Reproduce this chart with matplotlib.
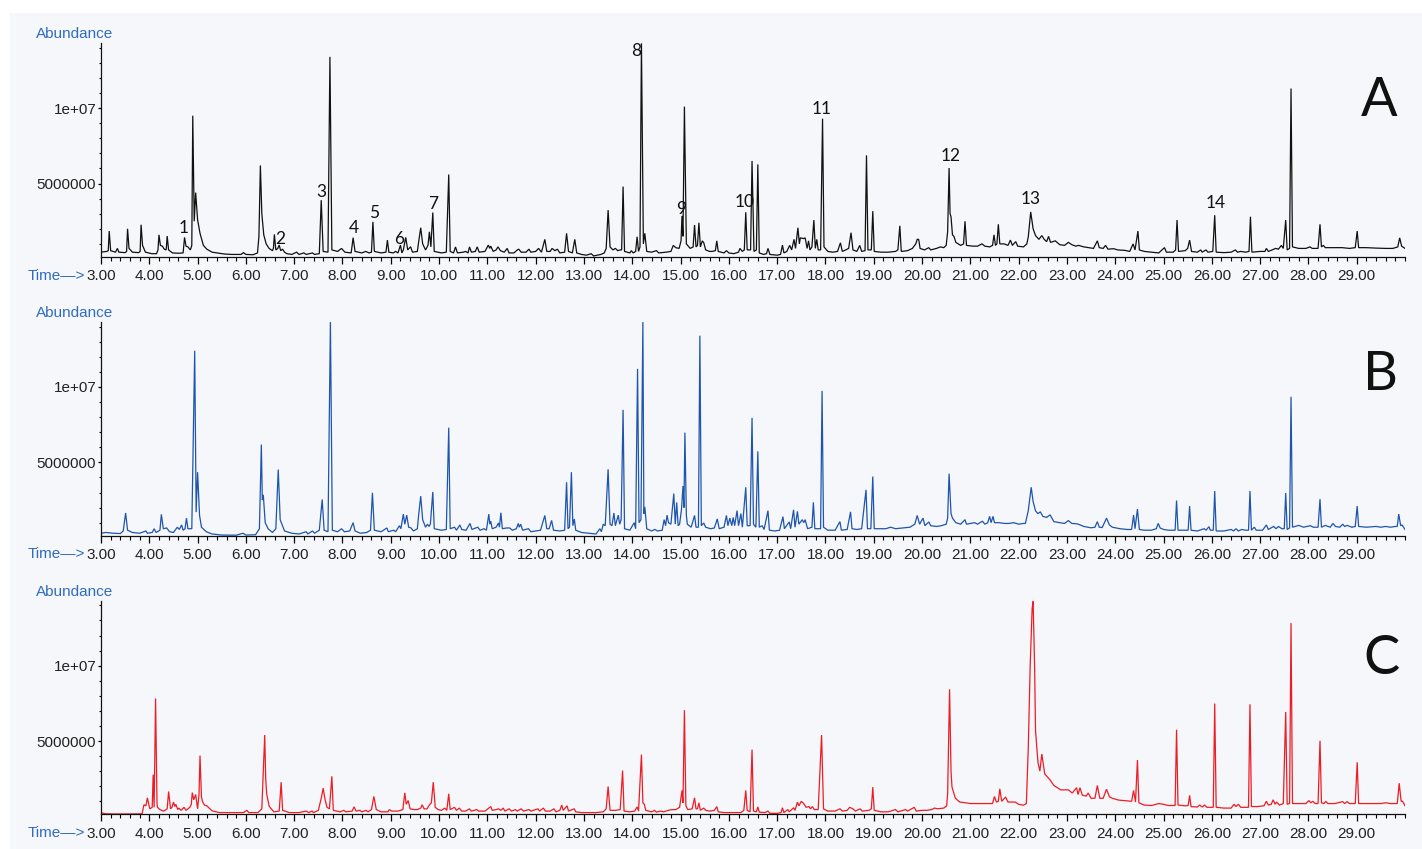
import numpy as np
import matplotlib
matplotlib.use("Agg")
import matplotlib.pyplot as plt
from matplotlib.ticker import FixedLocator, MultipleLocator, FuncFormatter
from matplotlib.patches import Rectangle

# ---------------- data (time in min, abundance in millions) ----------------
trace_a = [
(3.00,0.45),(3.12,0.5),(3.15,0.55),(3.17,1.85),(3.20,0.55),(3.30,0.45),(3.34,0.7),(3.37,0.45),(3.50,0.42),(3.53,0.5),
(3.55,2.0),(3.58,0.7),(3.65,0.45),(3.78,0.42),(3.81,0.5),(3.83,2.27),(3.86,0.9),(3.92,0.45),(4.05,0.35),(4.15,0.35),
(4.18,0.6),(4.20,1.6),(4.23,0.9),(4.27,0.85),(4.31,0.65),(4.35,0.6),(4.37,1.52),(4.40,0.6),(4.48,0.4),(4.60,0.38),
(4.70,0.4),(4.73,1.43),(4.76,0.85),(4.80,0.8),(4.85,0.6),(4.88,0.9),(4.90,9.5),(4.93,2.5),(4.96,4.4),(5.00,2.6),
(5.05,1.7),(5.12,0.9),(5.19,0.65),(5.30,0.45),(5.40,0.4),(5.55,0.33),(5.70,0.3),(5.90,0.3),(5.95,0.42),(6.00,0.3),
(6.15,0.28),(6.24,0.4),(6.27,1.5),(6.30,6.2),(6.33,3.0),(6.37,1.6),(6.42,1.0),(6.48,0.7),(6.55,0.55),(6.57,0.7),
(6.59,1.63),(6.62,0.6),(6.66,0.7),(6.69,0.92),(6.72,0.55),(6.76,0.65),(6.80,0.45),(6.85,0.35),(6.95,0.3),(7.05,0.45),
(7.10,0.3),(7.20,0.4),(7.25,0.3),(7.38,0.4),(7.42,0.3),(7.52,0.35),(7.56,3.9),(7.60,0.5),(7.70,0.45),(7.74,13.4),
(7.78,0.6),(7.90,0.5),(7.98,0.7),(8.05,0.45),(8.18,0.4),(8.22,1.41),(8.26,0.5),(8.40,0.4),(8.48,0.5),(8.55,0.4),
(8.60,0.45),(8.63,2.46),(8.66,0.5),(8.80,0.4),(8.90,0.45),(8.93,1.25),(8.96,0.45),(9.05,0.4),(9.10,0.5),(9.15,0.4),
(9.20,0.92),(9.23,0.4),(9.26,0.6),(9.31,1.43),(9.35,0.6),(9.41,0.81),(9.45,0.45),(9.55,0.5),(9.58,1.2),(9.62,2.07),
(9.66,1.0),(9.72,0.6),(9.77,0.9),(9.80,1.8),(9.83,0.8),(9.87,3.08),(9.90,0.5),(10.05,0.4),(10.15,0.45),(10.20,5.6),
(10.23,0.5),(10.30,0.4),(10.34,0.8),(10.38,0.4),(10.50,0.45),(10.55,0.5),(10.60,0.4),(10.63,0.8),(10.67,0.45),(10.75,0.5),
(10.79,0.8),(10.83,0.45),(10.95,0.5),(11.02,0.92),(11.05,0.7),(11.07,0.85),(11.12,0.5),(11.18,0.6),(11.22,0.8),(11.27,0.55),
(11.35,0.45),(11.41,0.7),(11.45,0.4),(11.55,0.4),(11.62,0.6),(11.65,0.65),(11.70,0.45),(11.80,0.45),(11.86,0.65),(11.90,0.45),
(12.00,0.5),(12.06,0.7),(12.12,0.45),(12.19,1.3),(12.23,0.5),(12.30,0.5),(12.34,0.7),(12.40,0.55),(12.45,0.65),(12.50,0.4),
(12.60,0.45),(12.64,1.7),(12.68,0.5),(12.76,0.4),(12.81,1.3),(12.85,0.4),(12.95,0.3),(13.05,0.25),(13.15,0.35),(13.20,0.2),
(13.35,0.3),(13.42,0.4),(13.46,0.7),(13.50,3.24),(13.54,0.8),(13.60,0.6),(13.65,0.7),(13.70,0.55),(13.75,0.6),(13.78,0.6),
(13.81,4.8),(13.84,0.5),(13.95,0.4),(13.98,0.55),(14.02,0.4),(14.07,0.5),(14.10,1.47),(14.13,0.5),(14.16,0.8),(14.19,14.3),
(14.23,1.0),(14.26,1.7),(14.30,0.5),(14.40,0.45),(14.50,0.55),(14.55,0.4),(14.70,0.45),(14.80,0.5),(14.85,0.9),(14.90,0.75),
(14.97,0.7),(15.01,1.2),(15.03,2.86),(15.05,1.5),(15.08,10.1),(15.12,1.0),(15.20,0.7),(15.26,0.8),(15.29,2.25),(15.32,0.8),
(15.35,0.9),(15.38,2.4),(15.41,0.8),(15.45,1.2),(15.48,1.08),(15.52,0.6),(15.60,0.5),(15.65,0.5),(15.72,0.55),(15.75,1.2),
(15.78,0.5),(15.90,0.4),(15.95,0.55),(16.00,0.4),(16.10,0.35),(16.20,0.45),(16.23,0.7),(16.28,0.5),(16.32,0.6),(16.35,3.1),
(16.38,0.6),(16.45,0.6),(16.48,6.5),(16.52,0.5),(16.57,0.6),(16.60,6.27),(16.63,0.4),(16.72,0.3),(16.78,0.35),(16.81,0.7),
(16.85,0.3),(17.00,0.25),(17.07,0.3),(17.11,0.92),(17.14,0.4),(17.20,0.5),(17.26,0.9),(17.30,0.6),(17.35,1.3),(17.38,0.7),
(17.43,2.07),(17.46,1.0),(17.48,1.4),(17.55,1.35),(17.58,1.4),(17.62,0.7),(17.65,1.2),(17.68,0.6),(17.72,0.8),(17.76,2.58),
(17.79,0.7),(17.82,1.3),(17.85,0.6),(17.90,0.6),(17.94,9.3),(17.97,0.8),(18.05,0.5),(18.15,0.45),(18.25,0.5),(18.31,1.07),
(18.35,0.5),(18.42,0.6),(18.48,0.7),(18.53,1.74),(18.57,0.6),(18.65,0.5),(18.71,0.9),(18.75,0.5),(18.82,0.55),(18.85,6.87),
(18.88,0.6),(18.95,0.6),(18.98,3.17),(19.01,0.5),(19.15,0.45),(19.30,0.45),(19.45,0.5),(19.50,0.6),(19.54,2.2),(19.57,0.5),
(19.70,0.55),(19.80,0.7),(19.87,1.0),(19.90,1.3),(19.93,1.3),(19.96,0.7),(20.05,0.6),(20.14,0.75),(20.18,0.6),(20.30,0.7),
(20.38,0.8),(20.45,0.75),(20.50,0.9),(20.53,1.8),(20.56,6.03),(20.58,3.0),(20.60,2.8),(20.63,1.6),(20.66,1.5),(20.70,1.1),
(20.80,0.9),(20.86,1.0),(20.89,2.5),(20.92,0.9),(21.05,0.85),(21.15,0.85),(21.24,1.0),(21.30,0.85),(21.40,0.8),(21.46,0.9),
(21.49,1.6),(21.52,0.9),(21.55,1.0),(21.58,2.3),(21.61,1.0),(21.70,1.0),(21.78,0.9),(21.83,1.25),(21.87,0.9),(21.94,1.15),
(21.98,0.85),(22.10,0.8),(22.17,1.0),(22.20,1.47),(22.25,3.12),(22.30,2.0),(22.35,1.55),(22.42,1.3),(22.48,1.55),(22.53,1.3),
(22.58,1.15),(22.62,1.5),(22.66,1.1),(22.76,1.2),(22.85,0.95),(22.95,0.9),(23.03,1.1),(23.10,0.95),(23.18,0.85),(23.24,0.9),
(23.35,0.8),(23.45,0.75),(23.55,0.7),(23.63,1.2),(23.67,0.75),(23.75,0.7),(23.80,0.9),(23.85,0.65),(23.97,0.68),(24.05,0.6),
(24.20,0.57),(24.30,0.5),(24.37,1.0),(24.41,0.6),(24.47,1.85),(24.50,0.6),(24.60,0.5),(24.75,0.45),(24.90,0.4),(25.02,0.75),
(25.06,0.45),(25.20,0.45),(25.25,0.6),(25.28,2.58),(25.31,0.5),(25.45,0.55),(25.50,0.7),(25.54,1.25),(25.58,0.5),(25.70,0.45),
(25.77,0.6),(25.80,0.45),(25.88,0.6),(25.92,0.45),(26.02,0.5),(26.06,2.9),(26.09,0.45),(26.25,0.42),(26.40,0.45),(26.49,0.6),
(26.53,0.45),(26.60,0.5),(26.70,0.45),(26.77,0.5),(26.80,2.8),(26.83,0.45),(27.00,0.5),(27.10,0.5),(27.13,0.7),(27.17,0.5),
(27.25,0.6),(27.32,0.7),(27.38,0.65),(27.44,0.9),(27.48,0.7),(27.53,2.58),(27.56,0.6),(27.61,0.7),(27.64,11.3),(27.67,0.8),
(27.80,0.7),(27.95,0.7),(28.03,0.8),(28.08,0.7),(28.20,0.7),(28.24,2.3),(28.27,0.8),(28.31,0.9),(28.35,0.75),(28.50,0.75),
(28.70,0.75),(28.85,0.7),(28.97,0.75),(29.01,1.85),(29.04,0.75),(29.20,0.75),(29.40,0.72),(29.60,0.7),(29.75,0.7),(29.85,0.8),
(29.89,1.4),(29.93,0.85),(30.00,0.7)]

trace_b = [
(3.00,0.3),(3.10,0.35),(3.25,0.3),(3.40,0.28),(3.46,0.45),(3.51,1.64),(3.55,0.5),(3.65,0.35),(3.80,0.3),(3.93,0.45),
(3.96,0.3),(4.06,0.35),(4.10,0.6),(4.14,0.35),(4.22,0.5),(4.25,1.55),(4.29,0.6),(4.36,0.65),(4.42,0.4),(4.50,0.35),
(4.58,0.7),(4.62,0.55),(4.67,0.85),(4.70,0.5),(4.74,0.6),(4.77,1.3),(4.80,0.6),(4.88,0.6),(4.94,12.4),(4.97,1.7),
(5.00,4.35),(5.04,1.5),(5.08,0.7),(5.18,0.4),(5.30,0.25),(5.50,0.18),(5.80,0.17),(5.94,0.3),(6.00,0.18),(6.20,0.2),
(6.28,0.6),(6.32,6.18),(6.34,2.5),(6.36,2.85),(6.40,1.0),(6.46,0.6),(6.55,0.35),(6.62,0.6),(6.67,4.52),(6.71,1.2),
(6.80,0.45),(6.95,0.3),(7.10,0.25),(7.25,0.4),(7.28,0.25),(7.38,0.45),(7.42,0.3),(7.52,0.5),(7.58,2.54),(7.62,0.5),
(7.70,0.4),(7.75,14.3),(7.79,0.5),(7.90,0.4),(7.98,0.6),(8.04,0.4),(8.15,0.45),(8.22,1.0),(8.26,0.45),(8.37,0.3),
(8.50,0.35),(8.58,0.5),(8.62,2.98),(8.66,0.5),(8.80,0.4),(8.92,0.65),(8.95,0.4),(9.06,0.5),(9.10,0.4),(9.18,0.8),
(9.21,0.6),(9.26,1.57),(9.29,0.9),(9.33,1.5),(9.37,0.7),(9.42,0.65),(9.47,0.45),(9.55,0.6),(9.58,1.6),(9.62,2.76),
(9.66,1.2),(9.72,0.7),(9.76,0.9),(9.79,0.75),(9.82,0.9),(9.87,3.04),(9.90,0.6),(10.05,0.5),(10.15,0.55),(10.20,7.3),
(10.23,0.6),(10.32,0.7),(10.36,0.5),(10.43,0.85),(10.47,0.55),(10.56,0.5),(10.64,0.95),(10.68,0.55),(10.80,0.7),(10.85,0.5),
(10.93,0.6),(10.98,0.5),(11.03,1.57),(11.05,0.9),(11.07,1.1),(11.10,0.6),(11.18,0.7),(11.23,0.98),(11.25,0.7),(11.28,1.66),
(11.31,0.6),(11.40,0.65),(11.46,0.65),(11.52,0.5),(11.60,0.6),(11.64,0.95),(11.66,0.7),(11.69,0.9),(11.73,0.5),(11.85,0.6),
(11.90,0.4),(12.00,0.45),(12.10,0.5),(12.19,1.48),(12.23,0.6),(12.28,0.6),(12.33,1.15),(12.37,0.5),(12.50,0.45),(12.60,0.5),
(12.64,3.68),(12.67,0.6),(12.70,0.7),(12.74,4.35),(12.77,0.8),(12.80,1.25),(12.83,0.5),(12.95,0.35),(13.10,0.3),(13.25,0.25),
(13.33,0.6),(13.36,0.4),(13.40,0.9),(13.44,0.8),(13.50,4.54),(13.54,0.9),(13.58,0.8),(13.62,1.64),(13.65,0.8),(13.71,1.5),
(13.74,0.9),(13.77,1.2),(13.81,8.48),(13.84,0.6),(13.95,0.5),(14.04,1.0),(14.07,0.6),(14.11,11.2),(14.14,1.0),(14.18,1.2),
(14.22,14.3),(14.24,1.6),(14.26,2.05),(14.30,0.6),(14.40,0.45),(14.47,0.55),(14.52,0.45),(14.62,0.5),(14.66,1.2),(14.69,0.8),
(14.72,1.5),(14.75,1.0),(14.80,0.9),(14.86,2.93),(14.89,0.9),(14.92,2.34),(14.95,0.8),(14.98,0.9),(15.02,1.9),(15.05,3.43),
(15.07,2.0),(15.09,6.97),(15.12,1.5),(15.14,0.9),(15.22,0.7),(15.29,1.48),(15.32,0.7),(15.37,0.7),(15.40,13.4),(15.43,0.8),
(15.48,0.98),(15.52,0.7),(15.62,0.6),(15.70,0.65),(15.76,1.25),(15.80,0.6),(15.90,0.7),(15.95,1.48),(15.98,0.8),(16.02,1.3),
(16.06,0.8),(16.09,1.35),(16.12,0.8),(16.17,1.8),(16.20,0.8),(16.25,1.6),(16.28,0.7),(16.35,3.35),(16.38,0.8),(16.44,0.8),
(16.48,7.95),(16.51,0.9),(16.56,0.7),(16.60,5.73),(16.63,0.7),(16.69,0.8),(16.73,0.55),(16.81,1.8),(16.84,0.5),(16.95,0.45),
(17.05,0.5),(17.12,1.4),(17.15,0.6),(17.25,1.05),(17.28,0.6),(17.34,1.85),(17.37,0.7),(17.42,1.75),(17.45,0.9),(17.52,1.2),
(17.55,1.0),(17.58,1.2),(17.63,0.6),(17.72,0.7),(17.75,2.35),(17.78,0.6),(17.90,0.6),(17.93,9.74),(17.96,0.7),(18.05,0.5),
(18.20,0.5),(18.30,1.07),(18.33,0.5),(18.45,0.55),(18.52,1.72),(18.55,0.6),(18.65,0.55),(18.75,0.6),(18.84,3.18),(18.87,0.6),
(18.94,0.6),(18.98,4.06),(19.01,0.6),(19.10,0.6),(19.25,0.6),(19.35,0.7),(19.45,0.6),(19.60,0.65),(19.75,0.7),(19.85,0.9),
(19.90,1.48),(19.95,0.9),(20.02,1.3),(20.06,0.8),(20.14,1.05),(20.18,0.8),(20.30,0.75),(20.40,0.8),(20.50,0.9),(20.53,1.3),
(20.56,4.25),(20.60,1.6),(20.63,1.3),(20.70,1.0),(20.80,0.9),(20.89,1.2),(20.92,0.9),(21.00,0.95),(21.09,1.0),(21.15,0.9),
(21.25,1.1),(21.30,0.9),(21.36,1.0),(21.40,1.42),(21.43,1.0),(21.47,1.42),(21.50,1.0),(21.60,1.0),(21.70,0.95),(21.80,0.95),
(21.90,1.0),(22.00,0.9),(22.10,0.95),(22.14,0.95),(22.20,1.8),(22.26,3.35),(22.30,2.4),(22.35,1.78),(22.40,1.6),(22.45,1.72),
(22.50,1.42),(22.58,1.35),(22.65,1.52),(22.73,1.07),(22.85,1.0),(22.95,0.95),(23.03,1.14),(23.10,0.95),(23.22,0.92),(23.35,0.75),
(23.50,0.66),(23.58,0.7),(23.63,1.07),(23.67,0.7),(23.73,0.68),(23.82,1.3),(23.88,0.85),(23.94,0.7),(24.10,0.6),(24.25,0.55),
(24.34,0.55),(24.38,1.51),(24.41,0.6),(24.46,1.9),(24.50,0.55),(24.60,0.5),(24.75,0.5),(24.85,0.6),(24.89,0.95),(24.93,0.65),
(25.00,0.55),(25.10,0.5),(25.24,0.5),(25.27,2.47),(25.30,0.5),(25.45,0.5),(25.51,0.5),(25.54,2.1),(25.57,0.5),(25.70,0.45),
(25.84,0.6),(25.88,0.5),(25.94,0.73),(25.97,0.5),(26.03,0.5),(26.06,3.1),(26.09,0.45),(26.25,0.45),(26.40,0.55),(26.45,0.45),
(26.50,0.6),(26.55,0.45),(26.62,0.55),(26.70,0.5),(26.76,0.5),(26.79,3.1),(26.82,0.5),(26.88,0.7),(26.92,0.5),(27.05,0.5),
(27.13,0.85),(27.17,0.55),(27.28,0.75),(27.33,0.6),(27.38,0.75),(27.45,0.6),(27.50,0.6),(27.53,2.97),(27.56,0.55),(27.61,0.65),
(27.64,9.35),(27.67,0.7),(27.80,0.82),(27.90,0.7),(28.04,0.8),(28.10,0.7),(28.20,0.7),(28.24,2.56),(28.27,0.7),(28.35,0.82),
(28.45,0.7),(28.51,0.95),(28.56,0.75),(28.65,0.7),(28.71,0.9),(28.75,0.75),(28.80,0.82),(28.90,0.7),(28.97,0.75),(29.01,2.1),
(29.04,0.75),(29.20,0.7),(29.40,0.75),(29.50,0.7),(29.60,0.75),(29.70,0.7),(29.80,0.75),(29.84,0.75),(29.87,1.57),(29.91,0.8),
(29.94,0.85),(30.00,0.55)]

trace_c = [
(3.00,0.24),(3.10,0.17),(3.30,0.16),(3.60,0.16),(3.85,0.17),(3.89,0.77),(3.93,0.7),(3.96,1.23),(4.01,0.5),(4.06,0.6),
(4.08,2.77),(4.10,0.6),(4.13,7.82),(4.16,0.8),(4.17,0.6),(4.22,0.45),(4.30,0.35),(4.37,0.5),(4.40,1.65),(4.44,0.5),
(4.47,0.6),(4.50,0.95),(4.53,0.65),(4.55,0.8),(4.59,0.45),(4.61,0.55),(4.66,0.4),(4.72,0.6),(4.76,0.4),(4.84,0.6),
(4.87,0.8),(4.89,1.58),(4.92,1.1),(4.96,1.45),(5.00,0.5),(5.03,1.5),(5.05,4.03),(5.08,1.3),(5.10,1.0),(5.14,0.75),
(5.19,0.7),(5.30,0.37),(5.45,0.25),(5.70,0.25),(5.95,0.25),(6.02,0.4),(6.06,0.25),(6.25,0.25),(6.33,0.5),(6.39,5.4),
(6.41,2.5),(6.43,1.5),(6.48,0.7),(6.51,0.55),(6.58,0.3),(6.69,0.35),(6.73,2.27),(6.76,0.4),(6.90,0.25),(7.10,0.25),
(7.25,0.35),(7.30,0.25),(7.37,0.35),(7.40,0.25),(7.50,0.4),(7.56,1.2),(7.60,1.87),(7.64,1.1),(7.68,0.6),(7.73,0.5),
(7.78,2.66),(7.81,0.4),(7.95,0.3),(8.03,0.4),(8.07,0.3),(8.20,0.35),(8.24,0.63),(8.28,0.35),(8.36,0.4),(8.40,0.3),
(8.49,0.4),(8.53,0.3),(8.60,0.45),(8.65,1.32),(8.70,0.45),(8.80,0.3),(8.94,0.3),(8.97,0.45),(9.02,0.35),(9.15,0.35),
(9.25,0.45),(9.29,1.56),(9.32,0.8),(9.36,1.05),(9.40,0.5),(9.48,0.45),(9.55,0.45),(9.62,0.55),(9.65,0.77),(9.69,0.5),
(9.75,0.5),(9.78,0.65),(9.81,0.8),(9.84,0.9),(9.88,2.27),(9.92,0.6),(9.98,0.45),(10.05,0.4),(10.12,0.55),(10.16,0.4),
(10.20,1.5),(10.23,0.45),(10.32,0.6),(10.36,0.4),(10.42,0.55),(10.47,0.35),(10.55,0.35),(10.63,0.5),(10.67,0.35),(10.78,0.45),
(10.82,0.35),(10.95,0.35),(11.07,0.65),(11.10,0.4),(11.18,0.45),(11.23,0.5),(11.28,0.4),(11.33,0.55),(11.36,0.35),(11.45,0.5),
(11.50,0.35),(11.58,0.45),(11.62,0.35),(11.70,0.5),(11.75,0.35),(11.86,0.45),(11.90,0.35),(12.05,0.5),(12.08,0.35),(12.16,0.55),
(12.20,0.35),(12.30,0.35),(12.38,0.5),(12.42,0.3),(12.50,0.4),(12.54,0.75),(12.57,0.4),(12.65,0.7),(12.68,0.35),(12.80,0.5),
(12.83,0.3),(12.95,0.25),(13.10,0.25),(13.25,0.25),(13.40,0.3),(13.46,0.5),(13.50,1.98),(13.54,0.4),(13.65,0.4),(13.75,0.45),
(13.80,3.04),(13.83,0.35),(13.95,0.3),(14.05,0.35),(14.10,0.63),(14.13,0.35),(14.19,4.1),(14.22,0.9),(14.25,0.8),(14.28,0.4),
(14.40,0.3),(14.46,0.4),(14.50,0.28),(14.58,0.35),(14.65,0.3),(14.75,0.4),(14.80,0.44),(14.90,0.45),(14.98,0.6),(15.03,1.72),
(15.05,0.9),(15.08,7.05),(15.11,0.7),(15.15,0.45),(15.24,0.5),(15.29,1.23),(15.32,0.5),(15.35,0.5),(15.38,0.9),(15.41,0.4),
(15.48,0.55),(15.52,0.4),(15.60,0.35),(15.70,0.4),(15.75,0.65),(15.78,0.3),(15.90,0.25),(16.10,0.25),(16.25,0.25),(16.31,0.4),
(16.35,1.72),(16.38,0.4),(16.44,0.3),(16.48,4.43),(16.51,0.35),(16.57,0.3),(16.60,0.63),(16.63,0.28),(16.75,0.25),(16.81,0.35),
(16.85,0.2),(17.00,0.2),(17.08,0.25),(17.11,0.57),(17.14,0.25),(17.22,0.45),(17.25,0.3),(17.34,0.57),(17.37,0.4),(17.42,0.95),
(17.45,0.7),(17.50,1.0),(17.55,0.85),(17.60,0.6),(17.66,0.65),(17.69,0.5),(17.73,0.65),(17.77,0.45),(17.85,0.45),(17.92,5.4),
(17.96,0.5),(18.05,0.35),(18.20,0.35),(18.30,0.5),(18.35,0.35),(18.45,0.4),(18.50,0.6),(18.57,0.5),(18.62,0.35),(18.72,0.5),
(18.76,0.35),(18.90,0.4),(18.95,0.5),(18.98,1.94),(19.01,0.4),(19.15,0.3),(19.30,0.3),(19.45,0.45),(19.50,0.3),(19.66,0.45),
(19.70,0.35),(19.84,0.6),(19.88,0.35),(20.00,0.4),(20.10,0.4),(20.20,0.45),(20.26,0.55),(20.32,0.5),(20.45,0.55),(20.51,0.7),
(20.53,1.5),(20.57,8.43),(20.60,3.0),(20.62,1.95),(20.69,1.2),(20.78,0.95),(20.90,0.9),(21.00,0.85),(21.15,0.85),(21.30,0.85),
(21.46,0.85),(21.50,1.32),(21.54,0.95),(21.58,1.0),(21.61,1.83),(21.65,1.0),(21.73,1.28),(21.78,0.95),(21.86,0.95),(21.93,0.95),
(22.00,0.8),(22.10,0.74),(22.16,0.85),(22.20,4.58),(22.24,10.1),(22.28,13.8),(22.30,14.27),(22.33,10.1),(22.35,5.68),(22.40,3.59),
(22.44,3.0),(22.48,4.14),(22.54,2.82),(22.65,2.42),(22.73,2.05),(22.87,1.76),(23.03,1.76),(23.11,1.55),(23.20,1.9),(23.23,1.45),
(23.27,1.9),(23.32,1.4),(23.40,1.35),(23.44,1.55),(23.50,1.2),(23.58,1.2),(23.63,2.05),(23.68,1.2),(23.75,1.2),(23.82,1.8),
(23.88,1.3),(23.94,1.2),(24.07,1.08),(24.24,1.03),(24.34,1.0),(24.38,1.72),(24.42,0.95),(24.46,3.74),(24.49,0.9),(24.60,0.75),
(24.75,0.72),(24.90,0.85),(25.00,0.8),(25.10,0.72),(25.24,0.72),(25.27,5.75),(25.30,0.75),(25.45,0.7),(25.51,0.72),(25.54,1.39),
(25.57,0.65),(25.70,0.62),(25.75,0.75),(25.80,0.62),(25.85,0.75),(25.90,0.6),(26.03,0.6),(26.06,7.49),(26.09,0.6),(26.25,0.55),
(26.40,0.55),(26.46,0.8),(26.50,0.65),(26.55,0.8),(26.60,0.6),(26.76,0.6),(26.79,7.44),(26.82,0.65),(26.95,0.65),(27.08,0.7),
(27.13,1.0),(27.17,0.75),(27.23,0.8),(27.27,1.1),(27.31,0.8),(27.34,0.95),(27.40,0.75),(27.48,0.85),(27.53,6.93),(27.56,0.8),
(27.61,0.85),(27.64,12.83),(27.67,0.85),(27.80,0.85),(27.95,0.85),(28.01,1.05),(28.05,0.9),(28.09,1.0),(28.14,0.85),(28.20,0.85),
(28.24,5.02),(28.27,0.9),(28.32,0.85),(28.36,1.0),(28.40,0.85),(28.55,0.85),(28.71,0.98),(28.75,0.85),(28.80,0.98),(28.85,0.85),
(28.97,0.85),(29.01,3.59),(29.04,0.85),(29.20,0.85),(29.40,0.85),(29.50,0.85),(29.60,0.9),(29.70,0.85),(29.84,0.85),(29.88,2.2),
(29.92,1.0),(29.95,1.0),(30.00,0.7)]

# numbered peaks in panel A: label text, label time (min), label centre height (millions)
peak_numbers = ["1", "2", "3", "4", "5", "6", "7", "8", "9", "10", "11", "12", "13", "14"]
peak_label_t = [4.72, 6.71, 7.57, 8.24, 8.65, 9.18, 9.88, 14.09, 15.02, 16.32, 17.92, 20.59, 22.25, 26.08]
peak_label_v = [2.03, 1.30, 4.42, 2.07, 3.07, 1.32, 3.64, 13.81, 3.33, 3.76, 9.92, 6.83, 3.96, 3.73]

panel_letters = ["A", "B", "C"]
line_colors = ["#111111", "#1f55ad", "#ee1c25"]
traces = [trace_a, trace_b, trace_c]

xtick_major = list(range(3, 30))
ytick_major = [5e6, 1e7]
ytick_labels = {5e6: "5000000", 1e7: "1e+07"}

# ---------------- layout ----------------
W, H = 1422, 849
fig = plt.figure(figsize=(W / 100, H / 100), dpi=100, facecolor="white")
fig.patches.append(Rectangle((10 / W, 0), 1 - 10 / W, 1 - 13 / H, transform=fig.transFigure,
                             facecolor="#f5f7fa", edgecolor="none", zorder=-10))

TICK_FONT = "Liberation Sans"
LABEL_BLUE = "#2f6cc0"


def px_rect(left, top, right, bottom):
    return [left / W, 1 - bottom / H, (right - left) / W, (bottom - top) / H]


panel_top = [43.3, 322.1, 600.9]
panel_bottom = [256.7, 535.5, 814.1]
letter_pos = [(1379, 100), (1381, 375), (1382, 659)]

for i in range(3):
    ax = fig.add_axes(px_rect(101, panel_top[i], 1405, panel_bottom[i]))
    ax.set_facecolor("none")
    t, v = zip(*traces[i])
    ax.plot(np.array(t), np.array(v) * 1e6, color=line_colors[i], lw=0.9, solid_joinstyle="miter")
    ax.set_xlim(3.0, 30.0)
    ax.set_ylim(0.15e6, 14.3e6)
    for s in ("top", "right"):
        ax.spines[s].set_visible(False)
    for s in ("left", "bottom"):
        ax.spines[s].set_linewidth(0.9)
        ax.spines[s].set_color("#111111")
    ax.xaxis.set_major_locator(FixedLocator(xtick_major))
    ax.xaxis.set_minor_locator(MultipleLocator(0.2))
    ax.xaxis.set_major_formatter(FuncFormatter(lambda x, p: f"{x:.2f}"))
    ax.yaxis.set_major_locator(FixedLocator(ytick_major))
    ax.yaxis.set_minor_locator(MultipleLocator(1e6))
    ax.yaxis.set_major_formatter(FuncFormatter(lambda y, p: ytick_labels.get(y, "")))
    ax.tick_params(axis="x", which="major", direction="out", length=4.8, width=0.9, pad=4.2,
                   labelsize=11, labelcolor="#222222")
    ax.tick_params(axis="x", which="minor", direction="out", length=2.6, width=0.8)
    ax.tick_params(axis="y", which="major", direction="out", length=2.4, width=0.9, pad=1.0,
                   labelsize=11, labelcolor="#222222")
    ax.tick_params(axis="y", which="minor", direction="out", length=1.6, width=0.8)
    for lab in ax.get_xticklabels() + ax.get_yticklabels():
        lab.set_fontfamily(TICK_FONT)

    off = panel_top[i] - panel_top[0]
    fig.text(36 / W, 1 - (34 + off) / H, "Abundance", color=LABEL_BLUE, fontsize=11,
             family=TICK_FONT, ha="left", va="center")
    fig.text(28 / W, 1 - (275.5 + off) / H, "Time\u2014>", color=LABEL_BLUE, fontsize=11,
             family=TICK_FONT, ha="left", va="center")
    lx, ly = letter_pos[i]
    fig.text(lx / W, 1 - ly / H, panel_letters[i], fontsize=39, family=["Lato", "DejaVu Sans"],
             fontweight="normal", color="#111111", ha="center", va="center")

    if i == 0:
        for lab, lt, lv in zip(peak_numbers, peak_label_t, peak_label_v):
            ax.text(lt, lv * 1e6, lab, fontsize=12.5, family=["Lato", "DejaVu Sans"],
                    color="#111111", ha="center", va="center")

fig.savefig("out.png", dpi=100, facecolor="white")
